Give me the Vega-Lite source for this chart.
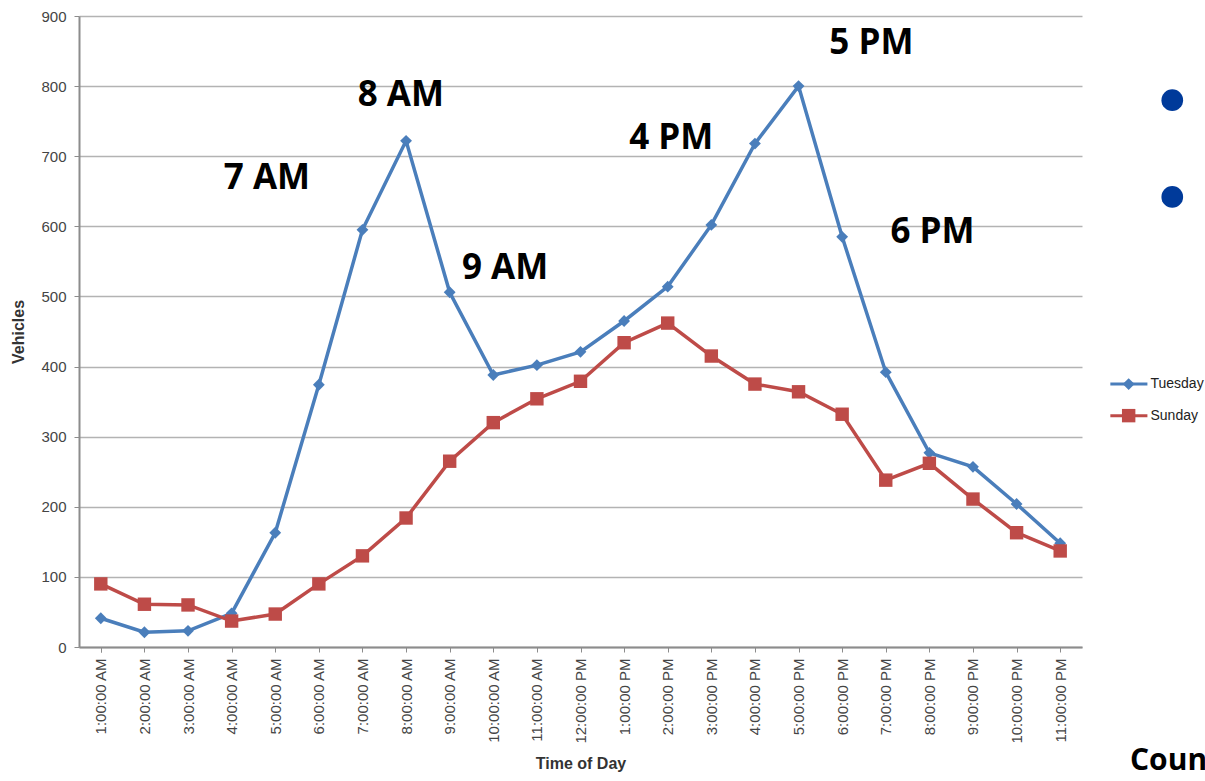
{
  "$schema": "https://vega.github.io/schema/vega-lite/v6.json",
  "width": 1003,
  "height": 631,
  "autosize": {"type": "none"},
  "padding": {"left": 79, "top": 16, "right": 123, "bottom": 134},
  "background": "white",
  "config": {
    "view": {"stroke": null},
    "font": "Liberation Sans"
  },
  "datasets": {
    "traffic": [
      {"time": "1:00:00 AM", "day": "Tuesday", "vehicles": 41},
      {"time": "2:00:00 AM", "day": "Tuesday", "vehicles": 21},
      {"time": "3:00:00 AM", "day": "Tuesday", "vehicles": 23},
      {"time": "4:00:00 AM", "day": "Tuesday", "vehicles": 48},
      {"time": "5:00:00 AM", "day": "Tuesday", "vehicles": 163},
      {"time": "6:00:00 AM", "day": "Tuesday", "vehicles": 374},
      {"time": "7:00:00 AM", "day": "Tuesday", "vehicles": 595},
      {"time": "8:00:00 AM", "day": "Tuesday", "vehicles": 722},
      {"time": "9:00:00 AM", "day": "Tuesday", "vehicles": 506},
      {"time": "10:00:00 AM", "day": "Tuesday", "vehicles": 388},
      {"time": "11:00:00 AM", "day": "Tuesday", "vehicles": 402},
      {"time": "12:00:00 PM", "day": "Tuesday", "vehicles": 421},
      {"time": "1:00:00 PM", "day": "Tuesday", "vehicles": 465},
      {"time": "2:00:00 PM", "day": "Tuesday", "vehicles": 514},
      {"time": "3:00:00 PM", "day": "Tuesday", "vehicles": 602},
      {"time": "4:00:00 PM", "day": "Tuesday", "vehicles": 718},
      {"time": "5:00:00 PM", "day": "Tuesday", "vehicles": 800},
      {"time": "6:00:00 PM", "day": "Tuesday", "vehicles": 585},
      {"time": "7:00:00 PM", "day": "Tuesday", "vehicles": 392},
      {"time": "8:00:00 PM", "day": "Tuesday", "vehicles": 277},
      {"time": "9:00:00 PM", "day": "Tuesday", "vehicles": 257},
      {"time": "10:00:00 PM", "day": "Tuesday", "vehicles": 204},
      {"time": "11:00:00 PM", "day": "Tuesday", "vehicles": 148},
      {"time": "1:00:00 AM", "day": "Sunday", "vehicles": 90},
      {"time": "2:00:00 AM", "day": "Sunday", "vehicles": 61},
      {"time": "3:00:00 AM", "day": "Sunday", "vehicles": 60},
      {"time": "4:00:00 AM", "day": "Sunday", "vehicles": 37},
      {"time": "5:00:00 AM", "day": "Sunday", "vehicles": 47},
      {"time": "6:00:00 AM", "day": "Sunday", "vehicles": 90},
      {"time": "7:00:00 AM", "day": "Sunday", "vehicles": 130},
      {"time": "8:00:00 AM", "day": "Sunday", "vehicles": 184},
      {"time": "9:00:00 AM", "day": "Sunday", "vehicles": 265},
      {"time": "10:00:00 AM", "day": "Sunday", "vehicles": 320},
      {"time": "11:00:00 AM", "day": "Sunday", "vehicles": 354},
      {"time": "12:00:00 PM", "day": "Sunday", "vehicles": 379},
      {"time": "1:00:00 PM", "day": "Sunday", "vehicles": 434},
      {"time": "2:00:00 PM", "day": "Sunday", "vehicles": 462},
      {"time": "3:00:00 PM", "day": "Sunday", "vehicles": 415},
      {"time": "4:00:00 PM", "day": "Sunday", "vehicles": 375},
      {"time": "5:00:00 PM", "day": "Sunday", "vehicles": 364},
      {"time": "6:00:00 PM", "day": "Sunday", "vehicles": 332},
      {"time": "7:00:00 PM", "day": "Sunday", "vehicles": 238},
      {"time": "8:00:00 PM", "day": "Sunday", "vehicles": 262},
      {"time": "9:00:00 PM", "day": "Sunday", "vehicles": 211},
      {"time": "10:00:00 PM", "day": "Sunday", "vehicles": 163},
      {"time": "11:00:00 PM", "day": "Sunday", "vehicles": 137}
    ],
    "labels": [
      {"label": "7 AM", "hour": 4.81, "value": 669},
      {"label": "8 AM", "hour": 7.88, "value": 787},
      {"label": "9 AM", "hour": 10.27, "value": 541},
      {"label": "4 PM", "hour": 14.08, "value": 726},
      {"label": "5 PM", "hour": 18.67, "value": 862},
      {"label": "6 PM", "hour": 20.07, "value": 592}
    ],
    "legend": [
      {"day": "Tuesday", "value": 375},
      {"day": "Sunday", "value": 330}
    ],
    "bullets": [
      {"hour": 25.57, "value": 780},
      {"hour": 25.57, "value": 642}
    ],
    "footer": [
      {"label": "Count", "hour": 24.6, "value": -175}
    ]
  },
  "layer": [
    {
      "data": {"name": "traffic"},
      "encoding": {
        "x": {
          "field": "time", "type": "ordinal", "sort": null,
          "scale": {"type": "point", "padding": 0.5},
          "axis": {
            "title": "Time of Day",
            "titleFontSize": 16, "titleFontWeight": "bold", "titleColor": "#333",
            "titlePadding": 12,
            "labelAngle": -90, "labelFontSize": 15, "labelColor": "#444",
            "labelPadding": 6,
            "grid": false, "domainColor": "#8c8c8c", "domainWidth": 2,
            "ticks": true, "tickColor": "#8c8c8c", "tickSize": 5, "tickBand": "extent"
          }
        },
        "y": {
          "field": "vehicles", "type": "quantitative",
          "scale": {"domain": [0, 900], "nice": false},
          "axis": {
            "title": "Vehicles",
            "titleFontSize": 16, "titleFontWeight": "bold", "titleColor": "#333",
            "titlePadding": 14,
            "values": [0, 100, 200, 300, 400, 500, 600, 700, 800, 900],
            "labelFontSize": 15, "labelColor": "#444", "labelPadding": 8,
            "grid": true, "gridColor": "#b3b3b3", "gridWidth": 1.5,
            "domainColor": "#8c8c8c", "domainWidth": 2,
            "tickColor": "#8c8c8c", "tickSize": 5
          }
        },
        "color": {
          "field": "day", "type": "nominal",
          "scale": {"domain": ["Tuesday", "Sunday"], "range": ["#4a7ebb", "#be4b48"]},
          "legend": null
        }
      },
      "layer": [
        {
          "mark": {"type": "line", "strokeWidth": 3.5}
        },
        {
          "mark": {"type": "point", "filled": true, "opacity": 1},
          "encoding": {
            "shape": {
              "field": "day", "type": "nominal",
              "scale": {"domain": ["Tuesday", "Sunday"], "range": ["diamond", "square"]},
              "legend": null
            },
            "size": {
              "field": "day", "type": "nominal",
              "scale": {"domain": ["Tuesday", "Sunday"], "range": [140, 180]},
              "legend": null
            }
          }
        }
      ]
    },
    {
      "data": {"name": "legend"},
      "layer": [
        {
          "mark": {"type": "rule", "strokeWidth": 3},
          "encoding": {
            "x": {"datum": 24.15, "type": "quantitative", "scale": {"domain": [0.5, 23.5], "nice": false, "zero": false}, "axis": null},
            "x2": {"datum": 25.0},
            "y": {"field": "value", "type": "quantitative"},
            "color": {"field": "day", "type": "nominal", "legend": null}
          }
        },
        {
          "mark": {"type": "point", "filled": true, "opacity": 1},
          "encoding": {
            "x": {"datum": 24.57, "type": "quantitative", "axis": null},
            "y": {"field": "value", "type": "quantitative"},
            "color": {"field": "day", "type": "nominal", "legend": null},
            "shape": {"field": "day", "type": "nominal", "legend": null},
            "size": {"field": "day", "type": "nominal", "legend": null}
          }
        },
        {
          "mark": {"type": "text", "font": "Liberation Sans", "fontSize": 14, "color": "#222", "align": "left", "baseline": "middle"},
          "encoding": {
            "x": {"datum": 25.07, "type": "quantitative", "axis": null},
            "y": {"field": "value", "type": "quantitative"},
            "text": {"field": "day"}
          }
        }
      ]
    },
    {
      "data": {"name": "labels"},
      "mark": {"type": "text", "font": "Open Sans", "fontWeight": "bold", "fontSize": 35, "color": "#000", "align": "center", "baseline": "middle"},
      "encoding": {
        "x": {"field": "hour", "type": "quantitative", "scale": {"domain": [0.5, 23.5], "nice": false, "zero": false}, "axis": null},
        "y": {"field": "value", "type": "quantitative"},
        "text": {"field": "label"}
      }
    },
    {
      "data": {"name": "bullets"},
      "mark": {"type": "circle", "size": 470, "color": "#003a9a", "opacity": 1},
      "encoding": {
        "x": {"field": "hour", "type": "quantitative", "scale": {"domain": [0.5, 23.5], "nice": false, "zero": false}, "axis": null},
        "y": {"field": "value", "type": "quantitative"}
      }
    },
    {
      "data": {"name": "footer"},
      "mark": {"type": "text", "font": "Open Sans", "fontWeight": "bold", "fontSize": 30, "color": "#000", "align": "left", "baseline": "alphabetic"},
      "encoding": {
        "x": {"field": "hour", "type": "quantitative", "scale": {"domain": [0.5, 23.5], "nice": false, "zero": false}, "axis": null},
        "y": {"field": "value", "type": "quantitative"},
        "text": {"field": "label"}
      }
    }
  ],
  "resolve": {"scale": {"x": "independent"}}
}
